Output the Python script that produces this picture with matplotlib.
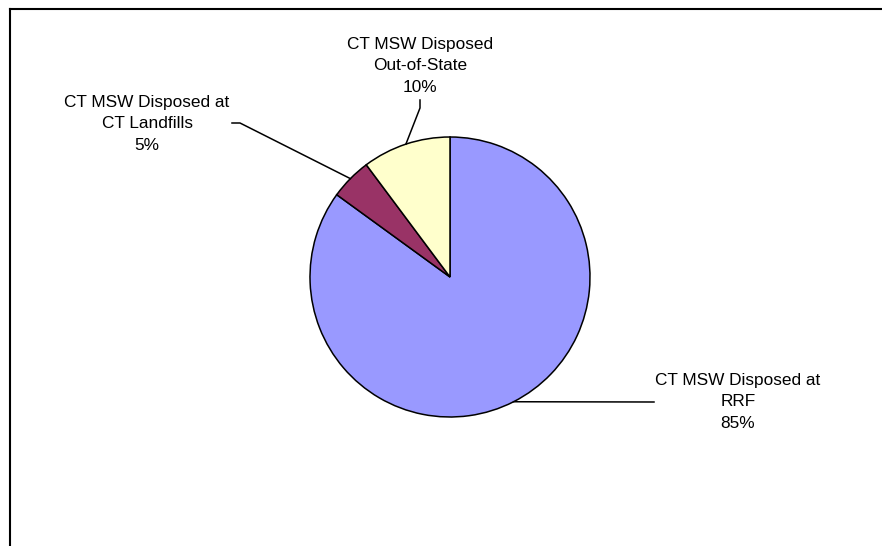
import numpy as np
import matplotlib
matplotlib.use("Agg")
import matplotlib.pyplot as plt
from matplotlib.lines import Line2D

# Data
categories = ["CT MSW Disposed at\nRRF", "CT MSW Disposed at\nCT Landfills", "CT MSW Disposed\nOut-of-State"]
values = [85.0, 4.8, 10.2]
colors = ["#9999FF", "#993366", "#FFFFCC"]

W, H = 882, 546
fig = plt.figure(figsize=(W / 100, H / 100), dpi=100)
ax = fig.add_axes([0, 0, 1, 1])

cx, cy, R = 450, H - 277, 140
wedges, _ = ax.pie(values, colors=colors, startangle=90, counterclock=False,
                   center=(cx, cy), radius=R,
                   wedgeprops=dict(edgecolor="black", linewidth=1.1))
ax.set_xlim(0, W)
ax.set_ylim(0, H)
ax.set_aspect("equal")
ax.axis("off")

# frame (left and top edges of chart area)
ax.add_line(Line2D([10, 10], [0, H - 9], color="black", lw=1.5, solid_capstyle="projecting"))
ax.add_line(Line2D([10, W], [H - 9, H - 9], color="black", lw=1.5, solid_capstyle="projecting"))

font = dict(family=["Liberation Sans", "DejaVu Sans"], size=12.4, color="black")
total = sum(values)

# label layout: text center, elbow points (pixel coords, y measured from top)
layout = [
    dict(text=(738, 402), path=[(654, 402)]),
    dict(text=(147, 124), path=[(240, 123), (232, 123)]),
    dict(text=(420, 66), path=[(420, 108), (420, 100)]),
]

for w, cat, v, lay in zip(wedges, categories, values, layout):
    ang = np.deg2rad((w.theta1 + w.theta2) / 2)
    px, py = cx + R * np.cos(ang), cy + R * np.sin(ang)
    xs = [px] + [p[0] for p in lay["path"]]
    ys = [py] + [H - p[1] for p in lay["path"]]
    ax.add_line(Line2D(xs, ys, color="black", lw=1.1))
    tx, ty = lay["text"]
    ax.text(tx, H - ty, f"{cat}\n{v / total * 100:.0f}%", ha="center", va="center",
            linespacing=1.5, **font)

fig.savefig("out.png", dpi=100)
